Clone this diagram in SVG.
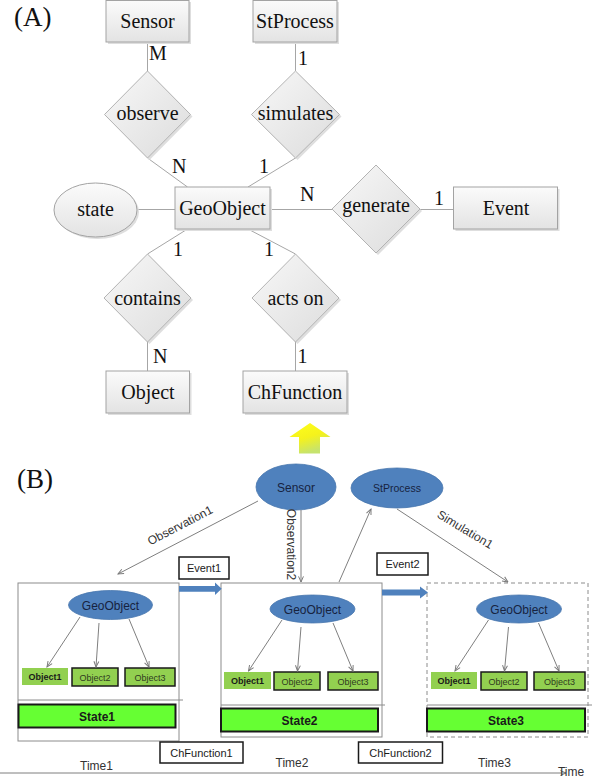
<svg xmlns="http://www.w3.org/2000/svg" width="600" height="779" viewBox="0 0 600 779">
<defs>
<linearGradient id="gEnt" x1="0" y1="0" x2="0" y2="1"><stop offset="0" stop-color="#fbfbfb"/><stop offset="1" stop-color="#e3e3e3"/></linearGradient>
<linearGradient id="gDia" x1="0" y1="0" x2="1" y2="1"><stop offset="0" stop-color="#f8f8f8"/><stop offset="1" stop-color="#dcdcdc"/></linearGradient>
<linearGradient id="gYel" x1="0" y1="0" x2="0.4" y2="1"><stop offset="0" stop-color="#ffff1a"/><stop offset="0.55" stop-color="#f5f21c"/><stop offset="1" stop-color="#c6e36e"/></linearGradient>
<marker id="arr" viewBox="0 0 10 10" refX="9" refY="5" markerWidth="7" markerHeight="7" orient="auto" markerUnits="userSpaceOnUse"><path d="M1,1.5 L9,5 L1,8.5" fill="none" stroke="#7a7a7a" stroke-width="1.4"/></marker>
<style>
.ent{fill:url(#gEnt);stroke:#a3a3a3;stroke-width:1}
.dia{fill:url(#gDia);stroke:#b3b3b3;stroke-width:1}
.shd{fill:#dedede}
.er{font-family:"Liberation Serif","Times New Roman",serif;font-size:20px;fill:#111;text-anchor:middle}
.card{font-family:"Liberation Serif","Times New Roman",serif;font-size:20px;fill:#111}
.big{font-family:"Liberation Serif","Times New Roman",serif;font-size:27px;fill:#111}
.erl{stroke:#a6a6a6;stroke-width:1;fill:none}
.blue{fill:#4f81bd;stroke:#4876ad;stroke-width:0.8}
.bt{font-family:"Liberation Sans",Arial,sans-serif;fill:#17233f;text-anchor:middle}
.gl{stroke:#7f7f7f;stroke-width:1;fill:none}
.frame{fill:#fff;stroke:#8c8c8c;stroke-width:1}
.sep{stroke:#8c8c8c;stroke-width:1}
.lab{font-family:"Liberation Sans",Arial,sans-serif;font-size:11px;fill:#1a1a1a;text-anchor:middle}
.rl{font-family:"Liberation Sans",Arial,sans-serif;font-size:12px;fill:#333;text-anchor:middle}
.box{fill:#fff;stroke:#1a1a1a;stroke-width:1.5}
.state{fill:#66ff33;stroke:#1a1a1a;stroke-width:2}
.st{font-family:"Liberation Sans",Arial,sans-serif;font-size:12px;font-weight:bold;fill:#1a1a1a;text-anchor:middle}
.obj{fill:#92d050}
.objb{fill:#92d050;stroke:#1a1a1a;stroke-width:1.5}
.ot{font-family:"Liberation Sans",Arial,sans-serif;font-size:9px;fill:#2e3a20;text-anchor:middle}
.otb{font-family:"Liberation Sans",Arial,sans-serif;font-size:9px;font-weight:bold;fill:#1a1a1a;text-anchor:middle}
.barr{fill:#4f81bd}
</style>
</defs>
<rect width="600" height="779" fill="#fff"/>

<text class="big" x="14" y="26">(A)</text>
<text class="big" x="17" y="488">(B)</text>

<!-- ER connectors -->
<g id="er-connectors">
<line class="erl" x1="147.5" y1="42" x2="147.5" y2="71"/>
<line class="erl" x1="295.5" y1="42" x2="295.5" y2="71"/>
<line class="erl" x1="147.5" y1="158" x2="187.5" y2="187"/>
<line class="erl" x1="295.5" y1="158" x2="248" y2="187"/>
<line class="erl" x1="137" y1="209.5" x2="175" y2="209.5"/>
<line class="erl" x1="270" y1="209.5" x2="332" y2="209.5"/>
<line class="erl" x1="420" y1="209.5" x2="453.5" y2="209.5"/>
<line class="erl" x1="187.5" y1="229" x2="147.5" y2="254"/>
<line class="erl" x1="248" y1="229" x2="295.5" y2="254"/>
<line class="erl" x1="147.5" y1="342" x2="147.5" y2="371"/>
<line class="erl" x1="295.5" y1="342" x2="295.5" y2="371"/>
</g>
<g id="er-cardinalities">
<text class="card" x="149" y="60">M</text>
<text class="card" x="298" y="65">1</text>
<text class="card" x="172" y="173">N</text>
<text class="card" x="259" y="173">1</text>
<text class="card" x="300" y="201">N</text>
<text class="card" x="434" y="205">1</text>
<text class="card" x="173" y="256">1</text>
<text class="card" x="264" y="256">1</text>
<text class="card" x="153" y="363">N</text>
<text class="card" x="297.5" y="363">1</text>
</g>

<g id="er-sensor"><rect class="shd" x="108" y="2" width="83" height="42"/><rect class="ent" x="106" y="0.5" width="83" height="41.5"/><text class="er" x="147.5" y="28">Sensor</text></g>
<g id="er-stprocess"><rect class="shd" x="255" y="2" width="84" height="42"/><rect class="ent" x="253" y="0.5" width="84" height="41.5"/><text class="er" x="295" y="28">StProcess</text></g>
<g id="er-observe"><polygon class="shd" points="149.5,73 192.5,116.5 149.5,160 106.5,116.5"/><polygon class="dia" points="147.5,71 190.5,114.5 147.5,158 104.5,114.5"/><text class="er" x="147.5" y="120">observe</text></g>
<g id="er-simulates"><polygon class="shd" points="297.5,73 341.5,116.5 297.5,160 253.5,116.5"/><polygon class="dia" points="295.5,71 339.5,114.5 295.5,158 251.5,114.5"/><text class="er" x="295.5" y="120">simulates</text></g>
<g id="er-geoobject"><rect class="shd" x="177" y="189" width="95" height="42"/><rect class="ent" x="175" y="187" width="95" height="42"/><text class="er" x="222.5" y="215">GeoObject</text></g>
<g id="er-state"><ellipse class="shd" cx="97.5" cy="212" rx="41.5" ry="27"/><ellipse class="ent" cx="95.5" cy="210" rx="41.5" ry="27"/><text class="er" x="95.5" y="216">state</text></g>
<g id="er-generate"><polygon class="shd" points="378,167 422,211 378,255 334,211"/><polygon class="dia" points="376,165 420,209 376,253 332,209"/><text class="er" x="376" y="212">generate</text></g>
<g id="er-event"><rect class="shd" x="455.5" y="189" width="104" height="42"/><rect class="ent" x="453.5" y="187" width="104" height="42"/><text class="er" x="506" y="214.5">Event</text></g>
<g id="er-contains"><polygon class="shd" points="149.5,256 193,300 149.5,344 106,300"/><polygon class="dia" points="147.5,254 191,298 147.5,342 104,298"/><text class="er" x="147.5" y="305">contains</text></g>
<g id="er-actson"><polygon class="shd" points="297.5,256 341,300 297.5,344 254,300"/><polygon class="dia" points="295.5,254 339,298 295.5,342 252,298"/><text class="er" x="295.5" y="305">acts on</text></g>
<g id="er-object"><rect class="shd" x="108" y="373" width="83.5" height="42"/><rect class="ent" x="106" y="371" width="83.5" height="42"/><text class="er" x="148" y="399">Object</text></g>
<g id="er-chfunction"><rect class="shd" x="245" y="373" width="104" height="42"/><rect class="ent" x="243" y="371" width="104" height="42"/><text class="er" x="295" y="399">ChFunction</text></g>

<g id="transition-arrow"><polygon points="310,423 330.5,437 320,437 320,453.5 299,453.5 299,437 289.5,437" fill="url(#gYel)"/></g>

<!-- Part B frames -->
<g id="time1">
<rect class="frame" x="18" y="583" width="161" height="158"/>
<line class="sep" x1="18" y1="700" x2="183" y2="700"/>
<ellipse class="blue" cx="110.5" cy="605" rx="42" ry="14.5"/>
<text class="bt" x="110.5" y="609.5" font-size="12">GeoObject</text>
<rect class="obj" x="22" y="668" width="46" height="17"/><text class="otb" x="45" y="680">Object1</text>
<rect class="objb" x="72" y="668" width="46" height="18"/><text class="ot" x="95" y="680.5">Object2</text>
<rect class="objb" x="125" y="668" width="50" height="18"/><text class="ot" x="150" y="680.5">Object3</text>
<rect class="state" x="18.5" y="704.5" width="157" height="23"/><text class="st" x="97" y="720.5">State1</text>
</g>
<g id="time2">
<rect class="frame" x="221" y="583" width="161" height="154"/>
<line class="sep" x1="221" y1="705" x2="385" y2="705"/>
<ellipse class="blue" cx="312.5" cy="609" rx="42.5" ry="14"/>
<text class="bt" x="312.5" y="613.5" font-size="12">GeoObject</text>
<rect class="obj" x="224" y="672" width="47" height="17"/><text class="otb" x="247.5" y="684">Object1</text>
<rect class="objb" x="274" y="672" width="46" height="18"/><text class="ot" x="297" y="684.5">Object2</text>
<rect class="objb" x="328" y="672" width="50" height="18"/><text class="ot" x="353" y="684.5">Object3</text>
<rect class="state" x="221" y="708.5" width="157" height="23"/><text class="st" x="299.5" y="724.5">State2</text>
</g>
<g id="time3">
<rect class="frame" x="427" y="583" width="161" height="154" stroke-dasharray="4,3"/>
<line class="sep" x1="427" y1="705" x2="592" y2="705"/>
<ellipse class="blue" cx="519" cy="609" rx="42.5" ry="14"/>
<text class="bt" x="519" y="613.5" font-size="12">GeoObject</text>
<rect class="obj" x="431" y="672" width="46" height="17"/><text class="otb" x="454" y="684">Object1</text>
<rect class="objb" x="481" y="672" width="46" height="18"/><text class="ot" x="504" y="684.5">Object2</text>
<rect class="objb" x="534" y="672" width="51" height="18"/><text class="ot" x="559.5" y="684.5">Object3</text>
<rect class="state" x="427" y="708.5" width="158" height="23"/><text class="st" x="506" y="724.5">State3</text>
</g>

<g id="sensor-b"><ellipse class="blue" cx="296" cy="487" rx="40" ry="23"/><text class="bt" x="296" y="491.5" font-size="12">Sensor</text></g>
<g id="stprocess-b"><ellipse class="blue" cx="397" cy="488" rx="46" ry="20"/><text class="bt" x="397" y="492" font-size="10.5">StProcess</text></g>

<g id="event1"><rect class="box" x="179" y="557" width="50" height="22"/><text class="lab" x="204" y="572">Event1</text></g>
<g id="event2"><rect class="box" x="377" y="553" width="51" height="22"/><text class="lab" x="402.5" y="568">Event2</text></g>
<g id="chfunction1"><rect class="box" x="160" y="742" width="83" height="21"/><text class="lab" x="201.5" y="756.5">ChFunction1</text></g>
<g id="chfunction2"><rect class="box" x="358.5" y="742" width="84" height="21"/><text class="lab" x="400.5" y="756.5">ChFunction2</text></g>

<!-- Part B connectors -->
<g id="b-connectors">
<line class="gl" x1="258" y1="501" x2="118" y2="574" marker-end="url(#arr)"/>
<line class="gl" x1="301" y1="510" x2="301" y2="582" marker-end="url(#arr)"/>
<line class="gl" x1="339" y1="582" x2="371" y2="509" marker-end="url(#arr)"/>
<line class="gl" x1="397" y1="509" x2="508" y2="582" marker-end="url(#arr)"/>
<line class="gl" x1="80" y1="617" x2="47" y2="667" marker-end="url(#arr)"/>
<line class="gl" x1="99" y1="623" x2="96" y2="667" marker-end="url(#arr)"/>
<line class="gl" x1="129" y1="619" x2="149" y2="667" marker-end="url(#arr)"/>
<line class="gl" x1="282" y1="620" x2="248.5" y2="671" marker-end="url(#arr)"/>
<line class="gl" x1="301" y1="627" x2="297.5" y2="671" marker-end="url(#arr)"/>
<line class="gl" x1="333" y1="623" x2="353" y2="671" marker-end="url(#arr)"/>
<line class="gl" x1="488.5" y1="620" x2="455" y2="671" marker-end="url(#arr)"/>
<line class="gl" x1="508.5" y1="627" x2="504.5" y2="671" marker-end="url(#arr)"/>
<line class="gl" x1="538.5" y1="623" x2="559" y2="671" marker-end="url(#arr)"/>
<line class="gl" x1="0" y1="773" x2="566" y2="773" marker-end="url(#arr)"/>
<polygon class="barr" points="179,586 215,586 215,582.5 221.7,588.8 215,595 215,591.7 179,591.7"/>
<polygon class="barr" points="382,589.5 420,589.5 420,586.5 428,592.5 420,598.5 420,595.5 382,595.5"/>
</g>
<g id="b-labels">
<text class="rl" transform="translate(182,529) rotate(-27.5)">Observation1</text>
<text class="rl" transform="translate(287,544.5) rotate(90)">Observation2</text>
<text class="rl" transform="translate(463,533) rotate(31)">Simulation1</text>
<text class="rl" x="96.5" y="769.5">Time1</text>
<text class="rl" x="292" y="767">Time2</text>
<text class="rl" x="494.5" y="767">Time3</text>
<text class="rl" x="571" y="775.5" text-anchor="start">Time</text>
</g>
</svg>
